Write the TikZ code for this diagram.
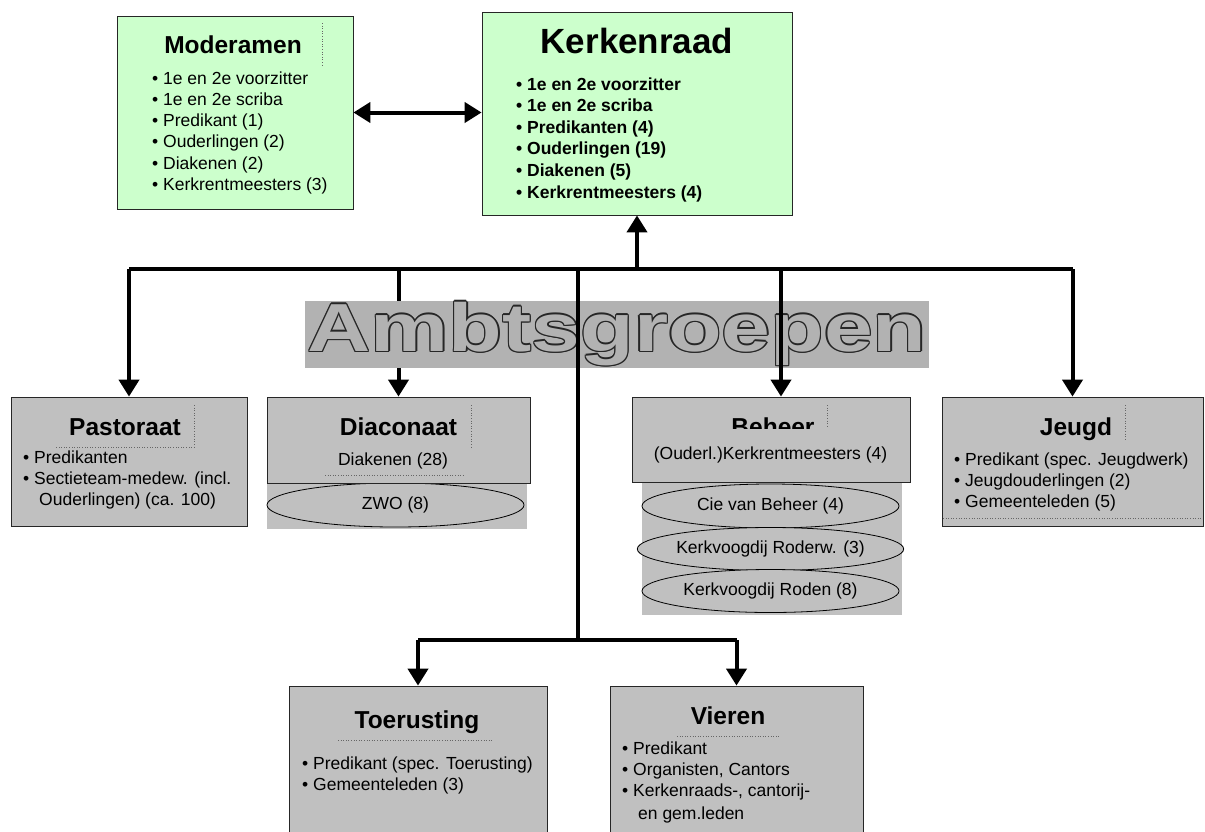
\documentclass[tikz,border=0pt]{standalone}
\usepackage{fontspec}
\setmainfont{Liberation Sans}
\usepackage{graphicx}
\usetikzlibrary{arrows.meta,shapes.geometric}

\definecolor{paleGreen}{HTML}{CCFFCC}
\definecolor{boxGrey}{HTML}{C0C0C0}
\definecolor{bandGrey}{HTML}{B2B2B2}

\newcommand{\bandtext}{\scalebox{1.29}[1]{\fontsize{68}{68}\selectfont\bfseries Ambtsgroepen}}

\tikzset{
  greenbox/.style={draw=black!85, line width=0.8pt, fill=paleGreen, inner sep=0pt},
  greybox/.style={draw=black!85, line width=0.8pt, fill=boxGrey, inner sep=0pt},
  ovalbox/.style={ellipse, draw=black, line width=0.8pt, fill=boxGrey, inner sep=0pt},
  title/.style={font=\fontsize{24.5}{28}\selectfont\bfseries, inner sep=0pt},
  item/.style={inner sep=0pt},
  textframe/.style={dotted, line width=0.6pt, black!60},
  link/.style={line width=4pt},
  tip/.tip={Triangle[length=17pt,width=20pt]}
}

\begin{document}
\begin{tikzpicture}[x=1pt,y=-1pt]
                    \useasboundingbox (0.000000,0.000000) rectangle (1205.000000,831.000000);
                    {\fontsize{17.5}{21}\selectfont

                    % Drawing box Moderamen
                    \draw (235.000000,112.500000) node [greenbox, minimum width=236pt, minimum height=193pt] (moderamen) {};%
                    \draw (233.000000,53.000000) node [title, anchor=base] (modtitle) {Moderamen};%
                    \draw [textframe] (322.000000,23.000000) -- (322.000000,65.000000);%
                    \foreach \txt [count=\i] in {1e en 2e voorzitter, 1e en 2e scriba, Predikant (1), Ouderlingen (2), Diakenen (2), Kerkrentmeesters (3)}
                      \draw (152.000000,{63+21.2*\i}) node [item, anchor=base west] (mod\i) {\textbullet\ \txt};%

                    % Drawing box Kerkenraad
                    \draw (637.000000,113.500000) node [greenbox, minimum width=310pt, minimum height=203pt] (kerkenraad) {};%
                    \draw (637.000000,53.000000) node [inner sep=0pt, anchor=base, font=\fontsize{35}{40}\selectfont\bfseries] (kerktitle) {Kerkenraad};%
                    \foreach \txt [count=\i] in {1e en 2e voorzitter, 1e en 2e scriba, Predikanten (4), Ouderlingen (19), Diakenen (5), Kerkrentmeesters (4)}
                      \draw (516.000000,{68.4+21.6*\i}) node [item, anchor=base west, font=\bfseries] (kerk\i) {\textbullet\ \txt};%

                    % Drawing arrow Moderamen Kerkenraad
                    \draw [link, tip-tip] (moderamen.east) -- (moderamen.east -| kerkenraad.west);%

                    % Drawing box Pastoraat
                    \draw (129.000000,461.500000) node [greybox, minimum width=236pt, minimum height=129pt] (pastoraat) {};%
                    \draw (125.000000,435.000000) node [title, anchor=base] (pastitle) {Pastoraat};%
                    \draw [textframe] (194.000000,405.000000) -- (194.000000,447.000000) -- (55.000000,447.000000);%
                    \draw (23.000000,463.000000) node [item, anchor=base west] (pas1) {\textbullet\ Predikanten};%
                    \draw (23.000000,484.000000) node [item, anchor=base west] (pas2) {\textbullet\ Sectieteam-medew. (incl.};%
                    \draw (39.000000,505.000000) node [item, anchor=base west] (pas3) {Ouderlingen) (ca. 100)};%

                    % Drawing box Diaconaat
                    \draw (397.000000,506.000000) node [fill=boxGrey, minimum width=260pt, minimum height=46pt, inner sep=0pt] (zwoback) {};%
                    \draw (395.500000,505.000000) node [ovalbox, minimum width=257pt, minimum height=44pt] (zwo) {ZWO (8)};%
                    \draw (398.500000,440.000000) node [greybox, minimum width=263pt, minimum height=86pt] (diaconaat) {};%
                    \draw (398.500000,435.000000) node [title, anchor=base] (diatitle) {Diaconaat};%
                    \draw [textframe] (471.000000,405.000000) -- (471.000000,447.000000);%
                    \draw [textframe] (325.000000,475.000000) -- (464.000000,475.000000);%
                    \draw (393.000000,465.000000) node [item, anchor=base] (dia1) {Diakenen (28)};%

                    % Drawing box Beheer
                    \draw (772.000000,549.000000) node [fill=boxGrey, minimum width=260pt, minimum height=132pt, inner sep=0pt] (beheerback) {};%
                    \draw (770.500000,506.000000) node [ovalbox, minimum width=257pt, minimum height=44pt] (cie) {Cie van Beheer (4)};%
                    \draw (770.500000,549.000000) node [ovalbox, minimum width=257pt, minimum height=43pt] (roderw) {Kerkvoogdij Roderw. (3)};%
                    \draw (770.500000,591.000000) node [ovalbox, minimum width=257pt, minimum height=43pt] (roden) {Kerkvoogdij Roden (8)};%
                    \draw (771.000000,439.500000) node [greybox, minimum width=278pt, minimum height=85pt] (beheer) {};%
                    \begin{scope}
                    \clip (632.000000,397.000000) rectangle (910.000000,428.000000);
                    \draw (773.000000,435.000000) node [title, anchor=base] (behtitle) {Beheer};%
                    \end{scope}
                    \draw [textframe] (827.000000,405.000000) -- (827.000000,427.000000);%
                    \draw (770.500000,459.000000) node [item, anchor=base] (beh1) {(Ouderl.)Kerkrentmeesters (4)};%

                    % Drawing box Jeugd
                    \draw (1072.500000,461.500000) node [greybox, minimum width=261pt, minimum height=129pt] (jeugd) {};%
                    \draw (1076.000000,435.000000) node [title, anchor=base] (jeutitle) {Jeugd};%
                    \draw [textframe] (1125.000000,405.000000) -- (1125.000000,440.000000);%
                    \draw [textframe] (943.000000,518.000000) -- (1202.000000,518.000000);%
                    \foreach \txt [count=\i] in {Predikant (spec. Jeugdwerk), Jeugdouderlingen (2), Gemeenteleden (5)}
                      \draw (954.000000,{444+21*\i}) node [item, anchor=base west] (jeu\i) {\textbullet\ \txt};%

                    % Drawing box Toerusting
                    \draw (418.000000,766.000000) node [greybox, minimum width=258pt, minimum height=160pt] (toerusting) {};%
                    \draw (417.000000,728.000000) node [title, anchor=base] (toetitle) {Toerusting};%
                    \draw [textframe] (338.000000,740.000000) -- (493.000000,740.000000);%
                    \foreach \txt [count=\i] in {Predikant (spec. Toerusting), Gemeenteleden (3)}
                      \draw (302.000000,{748+21*\i}) node [item, anchor=base west] (toe\i) {\textbullet\ \txt};%

                    % Drawing box Vieren
                    \draw (736.500000,766.000000) node [greybox, minimum width=253pt, minimum height=160pt] (vieren) {};%
                    \draw (728.000000,724.000000) node [title, anchor=base] (viertitle) {Vieren};%
                    \draw [textframe] (677.000000,736.000000) -- (780.000000,736.000000);%
                    \foreach \txt [count=\i] in {Predikant, {Organisten, Cantors}, {Kerkenraads-, cantorij-}}
                      \draw (622.000000,{733+21*\i}) node [item, anchor=base west] (vier\i) {\textbullet\ \txt};%
                    \draw (638.000000,819.000000) node [item, anchor=base west] (vier4) {en gem.leden};%

                    % Drawing bus
                    \coordinate (bus) at (0.000000,269.000000);%
                    \coordinate (beheerdrop) at (781.000000,269.000000);%
                    \coordinate (split) at (578.000000,640.000000);%
                    \draw [link] (pastoraat.north |- bus) -- (jeugd.north |- bus);%
                    \draw [link, -tip] (pastoraat.north |- bus) -- (pastoraat.north);%
                    \draw [link, -tip] (diaconaat.north |- bus) -- (diaconaat.north);%

                    % Drawing band Ambtsgroepen
                    \draw [fill=bandGrey, draw=none] (305.000000,301.000000) rectangle (929.000000,368.000000);%
                    \foreach \dx/\dy [count=\k] in {-1.4/0,1.4/0,0/-1.4,0/1.4,-1/-1,1/-1,-1/1,1/1}
                      \draw ({617+\dx},{351+\dy}) node [inner sep=0pt, anchor=base, text=black!85] (outline\k) {\bandtext};%
                    \draw (617.000000,351.000000) node [inner sep=0pt, anchor=base, text=bandGrey] (bandtitle) {\bandtext};%

                    % Drawing arrows
                    \draw [link, -tip] (kerkenraad.south |- bus) -- (kerkenraad.south);%
                    \draw [link, -tip] (beheerdrop) -- (beheerdrop |- beheer.north);%
                    \draw [link, -tip] (jeugd.north |- bus) -- (jeugd.north);%
                    \draw [link] (split |- bus) -- (split);%
                    \draw [link] (toerusting.north |- split) -- (vieren.north |- split);%
                    \draw [link, -tip] (toerusting.north |- split) -- (toerusting.north);%
                    \draw [link, -tip] (vieren.north |- split) -- (vieren.north);%
                    }
\end{tikzpicture}
\end{document}
